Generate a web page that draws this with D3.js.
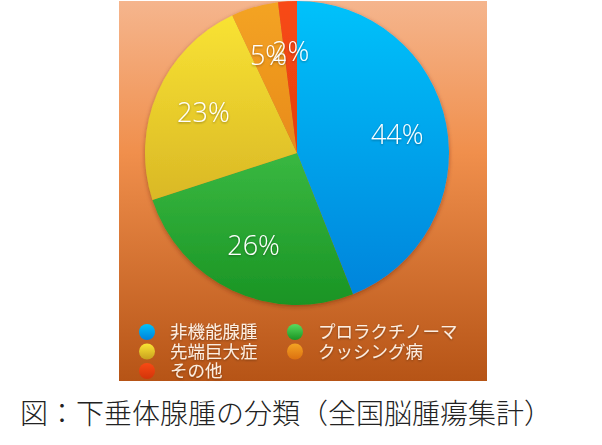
<!DOCTYPE html>
<html><head><meta charset="utf-8">
<script src="https://cdn.jsdelivr.net/npm/d3@7/dist/d3.min.js"></script>
<style>
html,body{margin:0;padding:0;background:#fff;}
svg{display:block;}
</style></head>
<body>
<svg id="chart" width="602" height="445"></svg>
<script>
const categories = ["非機能腺腫","プロラクチノーマ","先端巨大症","クッシング病","その他"];
const values = [44, 26, 23, 5, 2];
const labels = ["44%","26%","23%","5%","2%"];
const legendOrder = ["非機能腺腫","プロラクチノーマ","先端巨大症","クッシング病","その他"];
const caption = "図：下垂体腺腫の分類（全国脳腫瘍集計）";

const colorTop = ["#00c2fb","#58dc5e","#fbe634","#f4a423","#f84a14"];
const colorBot = ["#0082da","#1a9424","#c8a01e","#dc7010","#d2340a"];

const svg = d3.select("#chart");
const defs = svg.append("defs");

const bg = defs.append("linearGradient").attr("id","bg").attr("x1",0).attr("y1",0).attr("x2",0).attr("y2",1);
bg.append("stop").attr("offset","0%").attr("stop-color","#f5b58d");
bg.append("stop").attr("offset","40%").attr("stop-color","#f08f4c");
bg.append("stop").attr("offset","100%").attr("stop-color","#b65416");

const cx = 297, cy = 153, R = 152;

categories.forEach((c,i)=>{
  const g = defs.append("linearGradient").attr("id","sg"+i)
    .attr("gradientUnits","userSpaceOnUse")
    .attr("x1",0).attr("y1",-R).attr("x2",0).attr("y2",R);
  g.append("stop").attr("offset","0%").attr("stop-color",colorTop[i]);
  g.append("stop").attr("offset","100%").attr("stop-color",colorBot[i]);
});

const sh = defs.append("filter").attr("id","shadow").attr("x","-20%").attr("y","-20%").attr("width","140%").attr("height","140%");
sh.append("feDropShadow").attr("dx",0).attr("dy",1.5).attr("stdDeviation",2).attr("flood-color","#5a2000").attr("flood-opacity",0.45);
const ts = defs.append("filter").attr("id","tshadow").attr("x","-20%").attr("y","-20%").attr("width","140%").attr("height","140%");
ts.append("feDropShadow").attr("dx",0).attr("dy",1).attr("stdDeviation",0.8).attr("flood-color","#000").attr("flood-opacity",0.35);

svg.append("rect").attr("x",119).attr("y",1).attr("width",368).attr("height",380).attr("fill","url(#bg)");

const pie = d3.pie().sort(null).value(d=>d);
const arcs = pie(values);
const arc = d3.arc().innerRadius(0).outerRadius(R);
const labelArc = d3.arc().innerRadius(102).outerRadius(102);

const pg = svg.append("g").attr("transform",`translate(${cx},${cy})`);
pg.append("g").attr("filter","url(#shadow)")
  .selectAll("path").data(arcs).join("path")
  .attr("d",arc)
  .attr("fill",(d,i)=>`url(#sg${i})`);

pg.selectAll("text").data(arcs).join("text")
  .attr("transform",d=>`translate(${labelArc.centroid(d)})`)
  .attr("text-anchor","middle")
  .attr("dy","0.36em")
  .attr("fill","#ffffff")
  .attr("filter","url(#tshadow)")
  .style("font-family","'Open Sans', Lato, 'Noto Sans', sans-serif")
  .style("font-weight",300)
  .style("font-size","27px")
  .text((d,i)=>labels[i]);

// legend
const legendPos = [
  {x:147,y:332},{x:295,y:332},{x:147,y:351.5},{x:295,y:351.5},{x:147,y:371}
];
const lg = svg.append("g");
legendOrder.forEach((name,k)=>{
  const i = categories.indexOf(name);
  const p = legendPos[k];
  const cg = defs.append("linearGradient").attr("id","lg"+i).attr("x1",0).attr("y1",0).attr("x2",0).attr("y2",1);
  cg.append("stop").attr("offset","0%").attr("stop-color",colorTop[i]);
  cg.append("stop").attr("offset","100%").attr("stop-color",colorBot[i]);
  lg.append("circle").attr("cx",p.x).attr("cy",p.y).attr("r",8).attr("fill",`url(#lg${i})`);
  lg.append("text").attr("x",p.x+23).attr("y",p.y).attr("dy","0.36em")
    .attr("fill","#fbeee2")
    .attr("filter","url(#tshadow)")
    .style("font-family","'Noto Sans CJK JP', sans-serif")
    .style("font-size","17.5px")
    .text(name);
});

svg.append("text").attr("x",20).attr("y",414).attr("dy","0.36em")
  .attr("fill","#222")
  .style("font-family","'Noto Sans CJK JP', sans-serif")
  .style("font-weight",300)
  .style("font-size","28px")
  .text(caption);
</script>
</body></html>
